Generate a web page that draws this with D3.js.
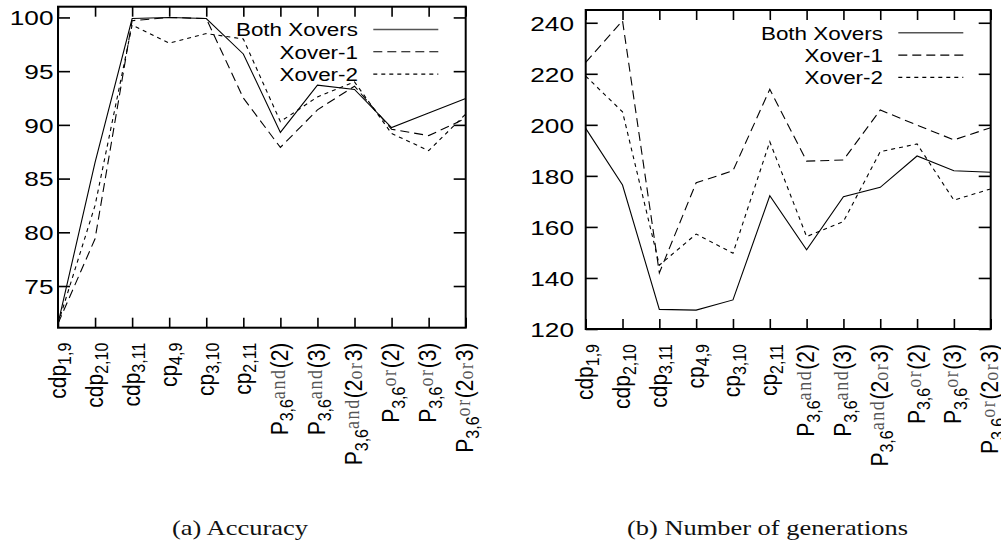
<!DOCTYPE html>
<html><head><meta charset="utf-8">
<script src="https://cdn.jsdelivr.net/npm/d3@7"></script>
<style>body{margin:0;background:#fff}svg{display:block}</style>
</head><body>
<script>
// ---- data ----
const categories = ["cdp_{1,9}","cdp_{2,10}","cdp_{3,11}","cp_{4,9}","cp_{3,10}","cp_{2,11}",
  "P_{3,6}^{and}(2)","P_{3,6}^{and}(3)","P_{3,6}^{and}(2[or]3)","P_{3,6}^{or}(2)","P_{3,6}^{or}(3)","P_{3,6}^{or}(2[or]3)"];
const seriesNames = ["Both Xovers","Xover-1","Xover-2"];
const accBoth = [71.5, 86.5, 99.9, 100.0, 99.9, 96.6, 89.3, 93.7, 93.3, 89.75, 91.1, 92.45];
const accX1   = [71.5, 79.4, 99.7, 100.0, 99.9, 92.5, 87.9, 91.4, 93.6, 89.6, 89.0, 90.6];
const accX2   = [71.5, 82.5, 99.3, 97.6, 98.5, 98.0, 90.3, 92.6, 94.0, 89.2, 87.6, 91.0];
const genBoth = [198.6, 176.4, 127.7, 127.4, 131.4, 172.2, 151.0, 171.8, 175.5, 187.8, 182.0, 181.4];
const genX1   = [224.5, 240.8, 142.0, 177.3, 182.0, 213.9, 185.8, 186.2, 205.8, 199.9, 194.1, 198.9];
const genX2   = [219.1, 205.1, 145.0, 157.2, 149.7, 193.4, 156.2, 162.1, 189.5, 192.5, 170.5, 174.9];
const accTicks = [75, 80, 85, 90, 95, 100];
const genTicks = [120, 140, 160, 180, 200, 220, 240];
const captions = ["(a) Accuracy", "(b) Number of generations"];

// ---- drawing ----
const SANS = "'Liberation Sans', Arial, Helvetica, sans-serif";
const MONO = "'Liberation Serif', 'Times New Roman', serif";
const SERIF = "'Liberation Serif', 'Times New Roman', serif";
const dashes = [null, "9,5", "4,4"];
const svg = d3.select("body").append("svg").attr("width", 1001).attr("height", 545);

function parseLabel(s) {
  const out = []; let i = 0;
  while (i < s.length) {
    if (s[i] === "_" && s[i+1] === "{") { const j = s.indexOf("}", i); out.push({t: s.slice(i+2, j), k: "sub"}); i = j+1; }
    else if (s[i] === "^" && s[i+1] === "{") { const j = s.indexOf("}", i); out.push({t: s.slice(i+2, j), k: "sup"}); i = j+1; }
    else if (s[i] === "[") { const j = s.indexOf("]", i); out.push({t: s.slice(i+1, j), k: "mono"}); i = j+1; }
    else { let j = i; while (j < s.length && !"_^[".includes(s[j])) j++; out.push({t: s.slice(i, j), k: "n"}); i = j; }
  }
  return out;
}

function panel(cfg) {
  const x = d3.scalePoint().domain(categories).range([cfg.left, cfg.right]);
  const y = d3.scaleLinear().domain(cfg.domain).range([cfg.bottom, cfg.top]);
  const g = svg.append("g");

  const line = d3.line().x((d, i) => x(categories[i])).y(d => y(d));
  cfg.series.forEach((s, k) => {
    g.append("path").datum(s).attr("d", line).attr("fill", "none")
      .attr("stroke", "#000").attr("stroke-width", 1.1)
      .attr("stroke-dasharray", dashes[k]);
  });

  const ax = [
    g.append("g").attr("transform", `translate(${cfg.left},0)`).call(d3.axisLeft(y).tickValues(cfg.ticks).tickSize(-12).tickSizeOuter(0).tickPadding(4.5)),
    g.append("g").attr("transform", `translate(${cfg.right},0)`).call(d3.axisRight(y).tickValues(cfg.ticks).tickSize(-12).tickSizeOuter(0).tickFormat("")),
    g.append("g").attr("transform", `translate(0,${cfg.bottom})`).call(d3.axisBottom(x).tickSize(-10).tickSizeOuter(0).tickFormat("")),
    g.append("g").attr("transform", `translate(0,${cfg.top})`).call(d3.axisTop(x).tickSize(-10).tickSizeOuter(0).tickFormat(""))
  ];
  ax.forEach(a => { a.select(".domain").remove(); a.selectAll(".tick line").attr("stroke", "#000").attr("stroke-width", 1.6); });
  ax[0].selectAll(".tick text").each(function () {
    d3.select(this).attr("x", null).attr("dy", "0.36em").attr("text-anchor", "end")
     .attr("transform", `translate(${cfg.labelRight - cfg.left},0) scale(1.28,1)`)
     .style("font-family", SANS).style("font-size", "20.5px").attr("fill", "#000");
  });

  g.append("rect").attr("x", cfg.left).attr("y", cfg.top)
    .attr("width", cfg.right - cfg.left).attr("height", cfg.bottom - cfg.top)
    .attr("fill", "none").attr("stroke", "#000").attr("stroke-width", 2);

  categories.forEach(c => {
    const txt = g.append("text")
      .attr("transform", `translate(${x(c) + 7.5},${cfg.bottom + 15}) scale(1.12,1) rotate(-90)`)
      .attr("text-anchor", "end").style("font-family", SANS).style("font-size", "21px").attr("fill", "#000");
    let shift = 0;
    parseLabel(c).forEach(seg => {
      let target = 0, fam = SANS, size = 21, fill = "#000", ls = 0;
      if (seg.k === "sub") { target = 5; size = 16; }
      if (seg.k === "sup") { target = -3; fam = MONO; size = 18; fill = "#555"; ls = 1.6; }
      if (seg.k === "mono") { target = 0; fam = MONO; size = 18; fill = "#555"; ls = 1.6; }
      const ts = txt.append("tspan").attr("dy", target - shift).style("font-family", fam)
        .style("font-size", size + "px").attr("fill", fill).text(seg.t);
      if (ls) ts.style("letter-spacing", ls + "px");
      shift = target;
    });
  });

  seriesNames.forEach((n, k) => {
    const ly = cfg.top + 22.8 + 22.3 * k;
    g.append("text").attr("transform", `translate(${cfg.right - 107.7},${ly}) scale(1.18,1)`)
      .attr("text-anchor", "end").attr("dy", "0.36em")
      .style("font-family", SANS).style("font-size", "19px").attr("fill", "#000").text(n);
    g.append("line").attr("x1", cfg.right - 92.4).attr("x2", cfg.right - 27.4)
      .attr("y1", ly).attr("y2", ly).attr("stroke", k === 0 ? "#555" : "#000")
      .attr("stroke-width", k === 0 ? 1.6 : 1.1).attr("stroke-dasharray", dashes[k]);
  });

  svg.append("text").attr("x", cfg.capX).attr("y", 534.5).attr("text-anchor", "middle")
    .attr("textLength", cfg.capW).attr("lengthAdjust", "spacingAndGlyphs")
    .style("font-family", SERIF).style("font-size", "21px").attr("fill", "#111").text(cfg.caption);
}

panel({left: 58, right: 465.7, top: 6.7, bottom: 327.7, domain: [71.12, 101], ticks: accTicks,
  series: [accBoth, accX1, accX2], labelRight: 53.5, caption: captions[0], capX: 240, capW: 136});
panel({left: 585.7, right: 990.7, top: 10, bottom: 329, domain: [120, 245], ticks: genTicks,
  series: [genBoth, genX1, genX2], labelRight: 574, caption: captions[1], capX: 767.5, capW: 281});
</script>
</body></html>
